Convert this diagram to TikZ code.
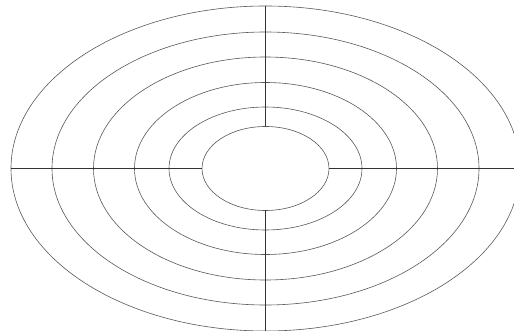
\documentclass[tikz,border=0pt]{standalone}
\usepackage{xcolor}

\begin{document}
\begin{tikzpicture}[x=1pt,y=-1pt,
	ring/.style={draw=black!65,line width=0.6pt},
	spoke/.style={draw=black!80,line width=0.6pt}]
\useasboundingbox (0,0) rectangle (514,331);
\clip (0,0) rectangle (514,331);
\fill[white] (0,0) rectangle (514,331);
\coordinate (c) at (265.5,168.5);
% rings, inner to outer
\foreach \a/\b in {63.5/42, 96.5/61.5, 131/86, 172/111.5, 213.5/136.5, 254.5/162.5} {
	\draw[ring] (c) ellipse ({\a} and {\b});
}
% spokes stop at the inner ring
\coordinate (top) at (265.5,6);
\coordinate (bot) at (265.5,331);
\coordinate (lft) at (11,168.5);
\coordinate (rgt) at (514,168.5);
\coordinate (itop) at (265.5,126.5);
\coordinate (ibot) at (265.5,210.5);
\coordinate (ilft) at (202,168.5);
\coordinate (irgt) at (329,168.5);
\draw[spoke] (top) -- (itop);
\draw[spoke] (ibot) -- (bot);
\draw[spoke] (lft) -- (ilft);
\draw[spoke] (irgt) -- (rgt);
\end{tikzpicture}
\end{document}
